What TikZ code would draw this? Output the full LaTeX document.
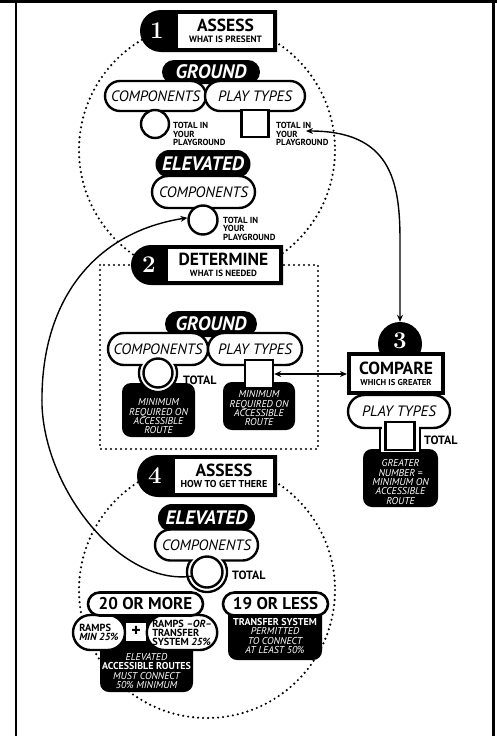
\documentclass[tikz,border=0pt]{standalone}
\usepackage{fontspec}
\setsansfont{PT Sans}
\renewcommand{\familydefault}{\sfdefault}
\usetikzlibrary{shapes.misc,arrows.meta}

\newcommand{\fsz}[1]{\fontsize{#1}{#1}\selectfont}
\newcommand{\padtop}[1]{\rule{0pt}{#1pt}}

\tikzset{
  pill/.style={rounded rectangle,draw,line width=2.4pt,fill=white,inner sep=0pt,font=\itshape\fsz{15}},
  blackpill/.style={rounded rectangle,fill=black,text=white,inner sep=0pt,font=\bfseries\itshape\fsz{19.5}},
  countpill/.style={rounded rectangle,draw,line width=2.6pt,fill=white,inner sep=0pt,font=\bfseries\fsz{17}},
  smallpill/.style={rounded rectangle,draw,line width=2.4pt,fill=white,inner sep=0pt,align=left,font=\bfseries\fontsize{10.3}{9}\selectfont},
  blackbox/.style={rounded corners=9pt,fill=black,text=white,inner sep=0pt,align=center,font=\itshape\fontsize{10}{9.3}\selectfont},
  ring/.style={circle,draw,line width=2.4pt,fill=white,inner sep=0pt},
  sqbox/.style={rectangle,draw,line width=2.4pt,fill=white,inner sep=0pt},
  hdr/.style={rounded rectangle,rounded rectangle right arc=none,fill=black,inner sep=0pt},
  hdrtext/.style={rectangle,fill=white,inner sep=0pt,align=center,font=\bfseries\fsz{11}},
  num/.style={text=white,inner sep=0pt,font=\rmfamily\bfseries\fsz{24}},
  note/.style={anchor=north west,inner sep=0pt,align=left,font=\bfseries\fontsize{8.8}{8.4}\selectfont},
  total/.style={anchor=west,inner sep=0pt,font=\bfseries\fsz{12}},
  dotline/.style={line width=2.4pt,dash pattern=on 0pt off 5pt,line cap=round},
  link/.style={line width=1.4pt,{Stealth[length=7pt,width=6pt]}-{Stealth[length=7pt,width=6pt]}}
}

\begin{document}
\begin{tikzpicture}[x=1pt,y=-1pt]
\useasboundingbox (0,0) rectangle (497,736);
% frame
\draw[line width=3pt] (0,1.5) -- (497,1.5);
\draw[line width=2.2pt] (16,0) -- (16,736);
\draw[line width=2.2pt] (493.5,0) -- (493.5,736);
% dotted outlines
\draw[dotline] (207,150) circle (128);
\draw[dotline] (100,265) rectangle (318,449);
\draw[dotline] (207,590) circle (128);

% 1 assess
\draw (208.5,31) node[hdr,minimum width=137pt,minimum height=42pt](hdra){};
\draw (157,31) node[num](numa){1};
\draw (225.5,31) node[hdrtext,minimum width=95pt,minimum height=34pt](txta){{\fsz{17.5}ASSESS}\\{\fsz{9.2}WHAT IS PRESENT}};
\draw (211,72) node[blackpill,minimum width=98pt,minimum height=24pt](grnda){GROUND};
\draw (155.5,96) node[pill,minimum width=101pt,minimum height=30pt](compa){COMPONENTS};
\draw (255,96) node[pill,minimum width=100pt,minimum height=30pt](playa){PLAY TYPES};
\draw (155,124) node[ring,minimum size=28pt](ringa){};
\draw (255,123.5) node[sqbox,minimum size=27pt](sqa){};
\draw (173,122.5) node[note](tota){TOTAL IN\\YOUR\\PLAYGROUND};
\draw (276,122.5) node[note](totb){TOTAL IN\\YOUR\\PLAYGROUND};
\draw (203,164) node[blackpill,minimum width=95pt,minimum height=28pt](elva){ELEVATED};
\draw (203.5,192) node[pill,minimum width=103pt,minimum height=32pt](compb){COMPONENTS};
\draw (203,220) node[ring,minimum size=29pt](ringb){};
\draw (223,217) node[note](totc){TOTAL IN\\YOUR\\PLAYGROUND};

% 2 determine
\draw (207,265) node[hdr,minimum width=152pt,minimum height=40pt](hdrb){};
\draw (149,265) node[num](numb){2};
\draw (223.5,265) node[hdrtext,minimum width=111pt,minimum height=32pt](txtb){{\fsz{17.5}DETERMINE}\\{\fsz{9}WHAT IS NEEDED}};
\draw (211,324) node[blackpill,minimum width=92pt,minimum height=26pt](grndb){GROUND};
\draw (158.5,410) node[blackbox,minimum width=73pt,minimum height=54pt](mina){\padtop{20}MINIMUM\\REQUIRED ON\\ACCESSIBLE\\ROUTE};
\draw (259,406) node[blackbox,minimum width=72pt,minimum height=48pt](minb){\padtop{12}MINIMUM\\REQUIRED ON\\ACCESSIBLE\\ROUTE};
\draw (158,373) node[ring,minimum size=38pt](outc){};
\draw (158,349) node[pill,minimum width=100pt,minimum height=32pt](compc){COMPONENTS};
\draw (255,349) node[pill,minimum width=94pt,minimum height=32pt](playb){PLAY TYPES};
\draw (158,373) node[circle,fill=white,inner sep=0pt,minimum size=35pt](gapc){};
\draw (158,373) node[ring,minimum size=29pt](ringc){};
\draw (259,374) node[sqbox,minimum size=28pt](sqb){};
\draw (183,380) node[total](totd){TOTAL};

% 3 compare
\draw (400,344) node[circle,fill=black,inner sep=0pt,minimum size=44pt](cmpc){};
\draw (400,341) node[num](numc){3};
\draw (396,373.5) node[hdrtext,draw,line width=4pt,minimum width=94pt,minimum height=39pt](cmp){{\fsz{17.5}COMPARE}\\{\fsz{8.6}WHICH IS GREATER}};
\draw (400.5,478) node[blackbox,minimum width=75pt,minimum height=58pt](grtr){\padtop{15}GREATER\\NUMBER =\\MINIMUM ON\\ACCESSIBLE\\ROUTE};
\draw (400,436.5) node[sqbox,minimum width=40pt,minimum height=33pt](outd){};
\draw (399,411.5) node[pill,minimum width=102pt,minimum height=33pt](playc){PLAY TYPES};
\draw (400,436) node[rectangle,fill=white,inner sep=0pt,minimum width=37pt,minimum height=28pt](gapd){};
\draw (400,436) node[sqbox,minimum width=29pt,minimum height=28pt](sqc){};
\draw (424,440) node[total](tote){TOTAL};

% 4 assess
\draw (207,476) node[hdr,minimum width=140pt,minimum height=42pt](hdrc){};
\draw (155,476) node[num](numd){4};
\draw (224,476) node[hdrtext,minimum width=98pt,minimum height=34pt](txtc){{\fsz{17.5}ASSESS}\\{\fsz{10}HOW TO GET THERE}};
\draw (206.5,518) node[blackpill,minimum width=97pt,minimum height=28pt](elvb){ELEVATED};
\draw (207,572) node[ring,minimum size=40pt](outf){};
\draw (206.5,545) node[pill,minimum width=103pt,minimum height=31pt](compd){COMPONENTS};
\draw (207,572) node[circle,fill=white,inner sep=0pt,minimum size=37pt](gapf){};
\draw (207,572) node[ring,minimum size=31pt](ringd){};
\draw (232,575) node[total](totf){TOTAL};
\draw (146.5,652) node[blackbox,minimum width=93pt,minimum height=80pt](elvr){\padtop{45}ELEVATED\\{\bfseries\upshape ACCESSIBLE ROUTES}\\MUST CONNECT\\50\% MINIMUM};
\draw (136,631.5) node[rectangle,fill=white,inner sep=0pt,minimum width=20pt,minimum height=18pt,font=\bfseries\fsz{18}](plus){+};
\draw (99,632.5) node[smallpill,minimum width=52pt,minimum height=35pt](rmpa){RAMPS\\{\itshape MIN 25\%}};
\draw (182,632.5) node[smallpill,minimum width=70pt,minimum height=35pt](rmpb){RAMPS {\itshape –OR–}\\TRANSFER\\SYSTEM {\itshape 25\%}};
\draw (145.5,604) node[countpill,minimum width=115pt,minimum height=23pt](more){20 OR MORE};
\draw (275,632.5) node[blackbox,minimum width=94pt,minimum height=55pt](trns){\padtop{14}{\bfseries\upshape TRANSFER SYSTEM}\\PERMITTED\\TO CONNECT\\AT LEAST 50\%};
\draw (275.5,604) node[countpill,minimum width=105pt,minimum height=23pt](less){19 OR LESS};

% links
\coordinate (tipa) at (306,131);
\draw[link] (tipa) .. controls (390,131) and (400,180) .. (400,240) -- (cmpc.north);
\draw[link] (sqb.east) -- (sqb.east -| cmp.west);
\draw[line width=1.4pt,-{Stealth[length=7pt,width=6pt]}] (ringd.195) .. controls (120,585) and (45,490) .. (42,405) .. controls (40,300) and (95,232) .. (ringb.172);
\end{tikzpicture}
\end{document}
